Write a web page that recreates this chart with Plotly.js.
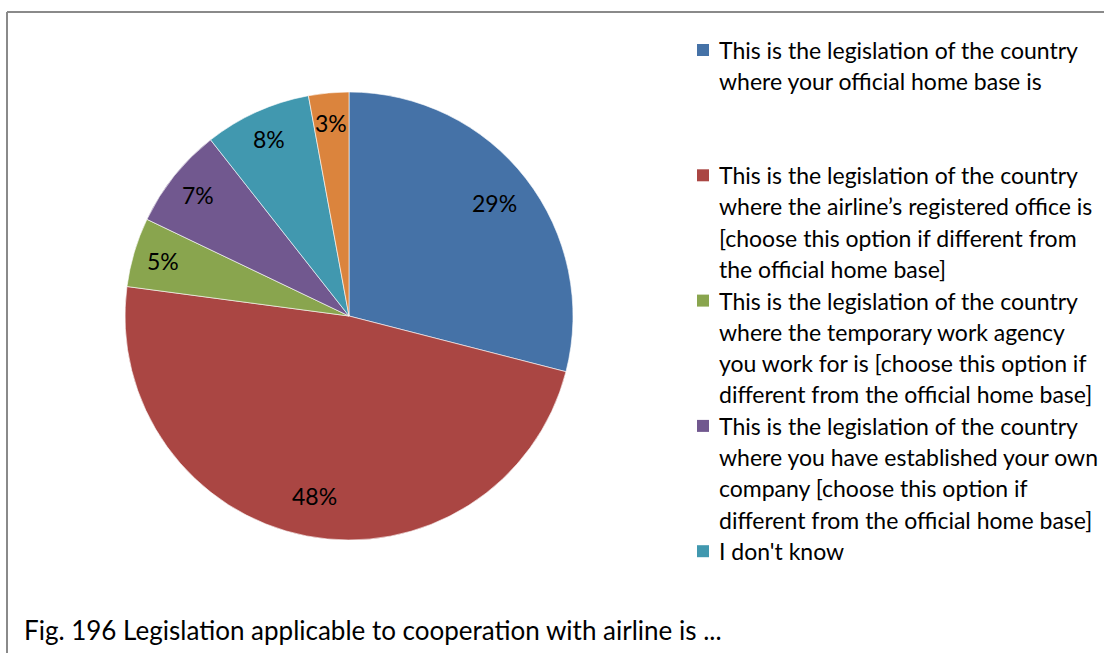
<!DOCTYPE html>
<html>
<head>
<meta charset="utf-8">
<script src="https://cdn.plot.ly/plotly-3.0.1.min.js"></script>
<style>html,body{margin:0;padding:0;background:#fff;}#chart{width:1104px;height:653px;}</style>
</head>
<body>
<div id="chart"></div>
<script>
// ---- data ----
var categories = [
  "This is the legislation of the country<br>where your official home base is",
  "This is the legislation of the country<br>where the airline\u2019s registered office is<br>[choose this option if different from<br>the official home base]",
  "This is the legislation of the country<br>where the temporary work agency<br>you work for is [choose this option if<br>different from the official home base]",
  "This is the legislation of the country<br>where you have established your own<br>company [choose this option if<br>different from the official home base]",
  "I don't know",
  "Other"
];
var shares = [29.0, 48.1, 5.0, 7.3, 7.7, 2.9];
var legendCount = 5; // only the first five entries are visible in the legend
var colors = ["#4572A7", "#AA4643", "#89A54E", "#71588F", "#4198AF", "#DB843D"];
var caption = "Fig. 196 Legislation applicable to cooperation with airline is ...";

// ---- layout geometry (pixels) ----
var W = 1104, H = 653;
var cx = 349, cy = 316, R = 224;
var FONT = "Lato, 'Open Sans', sans-serif";
function px(x) { return x / W; }
function py(y) { return 1 - y / H; }

var trace = {
  type: "pie",
  values: shares,
  labels: categories,
  sort: false,
  direction: "clockwise",
  rotation: 0,
  textinfo: "none",
  hoverinfo: "label+percent",
  showlegend: false,
  marker: { colors: colors, line: { color: "rgba(255,255,255,0.6)", width: 1 } },
  domain: { x: [px(cx - R), px(cx + R)], y: [py(cy + R), py(cy - R)] }
};

var annotations = [];
var shapes = [];

// percentage labels placed along the slice mid-angles
var total = shares.reduce(function (a, b) { return a + b; }, 0);
var cum = 0;
shares.forEach(function (v) {
  var mid = (cum + v / 2) / total * 2 * Math.PI;
  cum += v;
  var k = (v / total > 0.2) ? 0.82 : 0.865;
  var x = cx + R * k * Math.sin(mid);
  var y = cy - R * k * Math.cos(mid);
  annotations.push({
    xref: "paper", yref: "paper", x: px(x), y: py(y),
    xanchor: "center", yanchor: "middle", showarrow: false,
    text: Math.round(v / total * 100) + "%",
    font: { family: FONT, size: 23, color: "#000" }
  });
});

// legend (manual, to mirror the source layout)
var legTop = 50, slot = 125.3, lineH = 31.2, sqX = 697, sq = 12, txtX = 717;
for (var i = 0; i < legendCount; i++) {
  var y0 = legTop + slot * i;
  shapes.push({
    type: "rect", xref: "paper", yref: "paper",
    x0: px(sqX), x1: px(sqX + sq), y0: py(y0 - sq / 2), y1: py(y0 + sq / 2),
    fillcolor: colors[i], line: { width: 0 }
  });
  categories[i].split("<br>").forEach(function (line, j) {
    annotations.push({
      xref: "paper", yref: "paper", x: px(txtX), y: py(y0 + lineH * j),
      xanchor: "left", yanchor: "middle", showarrow: false,
      text: line, font: { family: FONT, size: 23, color: "#000" }
    });
  });
}

// caption
annotations.push({
  xref: "paper", yref: "paper", x: px(22), y: py(630),
  xanchor: "left", yanchor: "middle", showarrow: false,
  text: caption, font: { family: FONT, size: 26, color: "#000" }
});

// frame (top and left edges visible)
shapes.push({ type: "line", xref: "paper", yref: "paper", x0: px(7), x1: 1, y0: py(12), y1: py(12), line: { color: "#8a8a8a", width: 2 } });
shapes.push({ type: "line", xref: "paper", yref: "paper", x0: px(7), x1: px(7), y0: py(12), y1: 0, line: { color: "#8a8a8a", width: 2 } });

var layout = {
  width: W, height: H,
  margin: { l: 0, r: 0, t: 0, b: 0 },
  paper_bgcolor: "#fff",
  showlegend: false,
  annotations: annotations,
  shapes: shapes,
  font: { family: FONT }
};

Plotly.newPlot("chart", [trace], layout, { displayModeBar: false, staticPlot: true });
</script>
</body>
</html>
